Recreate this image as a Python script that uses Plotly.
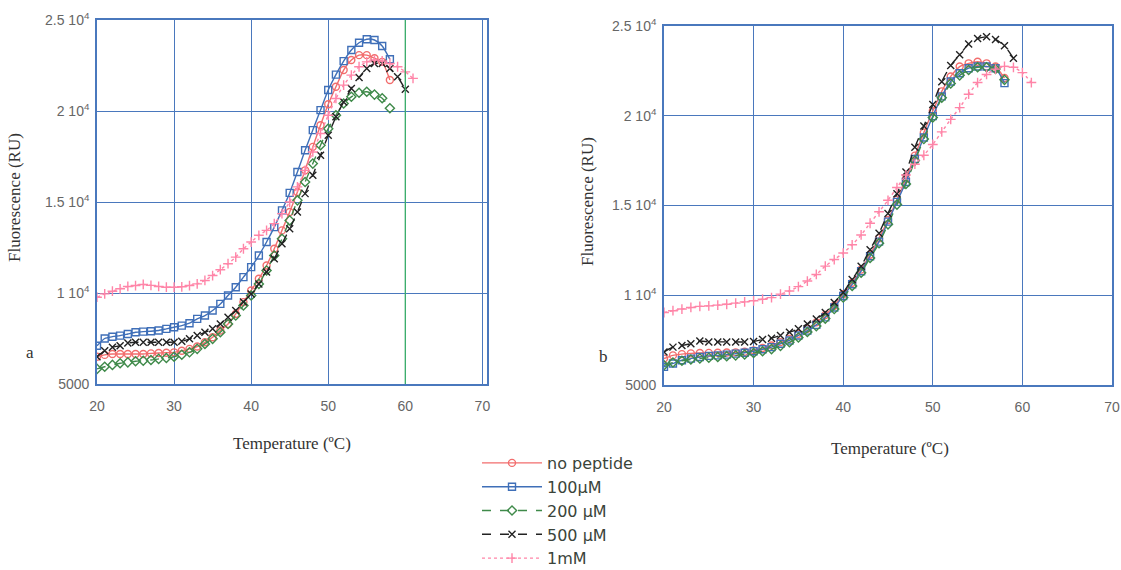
import plotly.graph_objects as go
from plotly.subplots import make_subplots

W, H = 1121, 570

# ---------------- data ----------------
temp_a = list(range(20, 59))          # 20..58
temp_a_long = list(range(20, 61))     # 20..60
temp_a_pink = list(range(20, 62))     # 20..61

a_nopep = [6500, 6600, 6650, 6650, 6650, 6650, 6650, 6680, 6700, 6720, 6740, 6830, 6930, 7060,
           7290, 7570, 7940, 8300, 8850, 9500, 10140, 10780, 11510, 12430, 13440, 14450, 15550,
           16740, 18030, 19220, 20370, 21330, 22250, 22800, 23070, 23070, 22900, 22700, 21700]
a_100 = [7100, 7500, 7600, 7660, 7750, 7840, 7880, 7900, 7940, 8030, 8120, 8210, 8340, 8580,
         8760, 9040, 9400, 9860, 10320, 10870, 11420, 12060, 12800, 13620, 14540, 15500, 16650,
         17840, 18950, 20050, 21150, 22000, 22740, 23350, 23750, 23940, 23900, 23570, 22840]
a_200 = [5830, 5950, 6050, 6140, 6190, 6250, 6280, 6320, 6380, 6430, 6500, 6610, 6740, 6930,
         7200, 7480, 7840, 8300, 8760, 9310, 9860, 10500, 11240, 12060, 12980, 13990, 15090,
         16100, 17110, 18120, 19030, 19770, 20410, 20780, 21000, 21060, 20900, 20700, 20150]
a_500 = [6500, 6830, 7020, 7100, 7250, 7290, 7290, 7290, 7290, 7290, 7300, 7350, 7480, 7660,
         7840, 8030, 8300, 8670, 9040, 9500, 9950, 10500, 11150, 11880, 12710, 13530, 14450,
         15460, 16470, 17570, 18670, 19680, 20500, 21240, 21840, 22340, 22610, 22610, 22340,
         21880, 21190]
a_1mM = [9770, 9950, 10100, 10230, 10360, 10410, 10470, 10420, 10360, 10320, 10320, 10340,
         10410, 10500, 10690, 10960, 11280, 11610, 11970, 12430, 12800, 13170, 13440, 13810,
         14360, 15000, 15830, 16740, 17750, 18760, 19770, 20690, 21420, 21970, 22430, 22700,
         22800, 22750, 22610, 22430, 22150, 21790]

temp_b = list(range(20, 59))
temp_b_long = list(range(20, 60))
temp_b_pink = list(range(20, 62))

b_nopep = [6470, 6650, 6720, 6760, 6780, 6790, 6800, 6810, 6820, 6850, 6930, 7060, 7200, 7390,
           7570, 7850, 8130, 8490, 8900, 9410, 10060, 10700, 11430, 12260, 13180, 14190, 15330,
           16490, 17780, 19060, 20260, 21360, 22190, 22740, 22920, 23010, 22920, 22740, 22100]
b_100 = [6010, 6200, 6380, 6470, 6560, 6620, 6650, 6690, 6750, 6800, 6880, 6990, 7110, 7300,
         7480, 7760, 8030, 8350, 8770, 9320, 9960, 10610, 11340, 12170, 12990, 14100, 15200,
         16310, 17590, 18790, 19980, 21080, 21910, 22370, 22650, 22740, 22740, 22650, 21820]
b_200 = [6100, 6250, 6350, 6420, 6480, 6520, 6560, 6600, 6650, 6700, 6780, 6880, 7000, 7180,
         7380, 7650, 7950, 8280, 8700, 9230, 9870, 10520, 11250, 12080, 12900, 13950, 15050,
         16200, 17500, 18700, 19900, 21000, 21800, 22250, 22550, 22700, 22700, 22600, 22000]
b_500 = [6840, 7110, 7200, 7300, 7450, 7400, 7400, 7400, 7400, 7400, 7420, 7540, 7610, 7760,
         7940, 8130, 8400, 8680, 9040, 9600, 10150, 10880, 11620, 12540, 13460, 14560, 15660,
         16860, 18240, 19430, 20630, 21900, 22800, 23400, 24000, 24300, 24400, 24250, 23900,
         23200]
b_1mM = [9040, 9140, 9230, 9320, 9380, 9410, 9450, 9500, 9560, 9630, 9690, 9780, 9870, 10060,
         10240, 10480, 10790, 11160, 11620, 11990, 12350, 12810, 13360, 14010, 14650, 15290,
         16000, 16700, 17300, 17800, 18400, 19100, 19800, 20450, 21200, 21850, 22300, 22600,
         22750, 22700, 22400, 21850]

series_names = ["no peptide", "100µM", "200 µM", "500 µM", "1mM"]
colors = ["#f26d6d", "#3f6fb8", "#3f8a4a", "#222222", "#ff85a8"]
symbols = ["circle-open", "square-open", "diamond-open", "x-thin-open", "cross-thin-open"]
dashes = ["solid", "solid", "dash", "dash", "dot"]

panel_a = [(temp_a, a_nopep), (temp_a, a_100), (temp_a, a_200), (temp_a_long, a_500), (temp_a_pink, a_1mM)]
panel_b = [(temp_b, b_nopep), (temp_b, b_100), (temp_b, b_200), (temp_b_long, b_500), (temp_b_pink, b_1mM)]

fig = make_subplots(rows=1, cols=2)

for col, panel in ((1, panel_a), (2, panel_b)):
    for i, (xs, ys) in enumerate(panel):
        fig.add_trace(go.Scatter(
            x=xs, y=ys, mode="lines+markers", name=series_names[i],
            showlegend=(col == 1),
            line=dict(color=colors[i], width=1.4, dash=dashes[i], shape="spline", smoothing=0.6),
            marker=dict(symbol=symbols[i], size=7, color=colors[i],
                        line=dict(width=1.4, color=colors[i])),
        ), row=1, col=col)

grid_c = "#4a78bd"
y_ticks = [5000, 10000, 15000, 20000, 25000]
y_text = ["5000", "1 10<sup>4</sup>", "1.5 10<sup>4</sup>", "2 10<sup>4</sup>", "2.5 10<sup>4</sup>"]
x_ticks = [20, 30, 40, 50, 60, 70]

common_x = dict(tickvals=x_ticks, showgrid=True, gridcolor=grid_c, gridwidth=1.3,
                showline=True, linecolor=grid_c, linewidth=1.6, mirror=True, zeroline=False,
                ticks="outside", ticklen=8, tickcolor="rgba(0,0,0,0)", automargin=False,
                tickfont=dict(family="Liberation Sans, Arial", size=14, color="#666"))
common_y = dict(tickvals=y_ticks, ticktext=y_text, range=[5000, 25000], showgrid=True,
                gridcolor=grid_c, gridwidth=1.3, showline=True, linecolor=grid_c, linewidth=1.6,
                mirror=True, zeroline=False, ticks="outside", ticklen=3, automargin=False,
                tickcolor="rgba(0,0,0,0)",
                tickfont=dict(family="Liberation Sans, Arial", size=14, color="#666"))

fig.update_xaxes(**common_x)
fig.update_yaxes(**common_y)
fig.update_xaxes(range=[20, 70.6], domain=[97 / W, 487 / W], row=1, col=1)
fig.update_xaxes(range=[20, 70], domain=[664 / W, 1112 / W], row=1, col=2)
fig.update_yaxes(domain=[1 - 384 / H, 1 - 20 / H], row=1, col=1)
fig.update_yaxes(domain=[1 - 385 / H, 1 - 26 / H], row=1, col=2)

# green gridline at 60 in panel a
fig.add_shape(type="line", xref="x", yref="y", x0=60, x1=60, y0=5000, y1=25000,
              line=dict(color="#3db06a", width=1.3))

serif = "Liberation Serif, Times New Roman, serif"
ann = [
    dict(x=15 / W, y=1 - 198 / H, text="Fluorescence (RU)", textangle=-90),
    dict(x=587 / W, y=1 - 202 / H, text="Fluorescence (RU)", textangle=-90),
    dict(x=292 / W, y=1 - 443 / H, text="Temperature (ºC)"),
    dict(x=890 / W, y=1 - 448 / H, text="Temperature (ºC)"),
    dict(x=30 / W, y=1 - 352 / H, text="a"),
    dict(x=603 / W, y=1 - 357 / H, text="b"),
]
for a in ann:
    fig.add_annotation(xref="paper", yref="paper", showarrow=False,
                       font=dict(family=serif, size=17, color="#333"),
                       xanchor="center", yanchor="middle", **a)

fig.update_layout(
    width=W, height=H, margin=dict(l=0, r=0, t=0, b=0, autoexpand=False),
    paper_bgcolor="white", plot_bgcolor="white",
    legend=dict(x=477 / W, y=1 - 446 / H, xanchor="left", yanchor="top",
                font=dict(family="DejaVu Sans, Arial", size=16, color="#3a443a"),
                itemwidth=60, tracegroupgap=0, bgcolor="rgba(0,0,0,0)"),
)

fig.write_html("out.html", config={"displayModeBar": False},
               post_script="document.body.style.margin='0';document.body.style.overflow='hidden';")
